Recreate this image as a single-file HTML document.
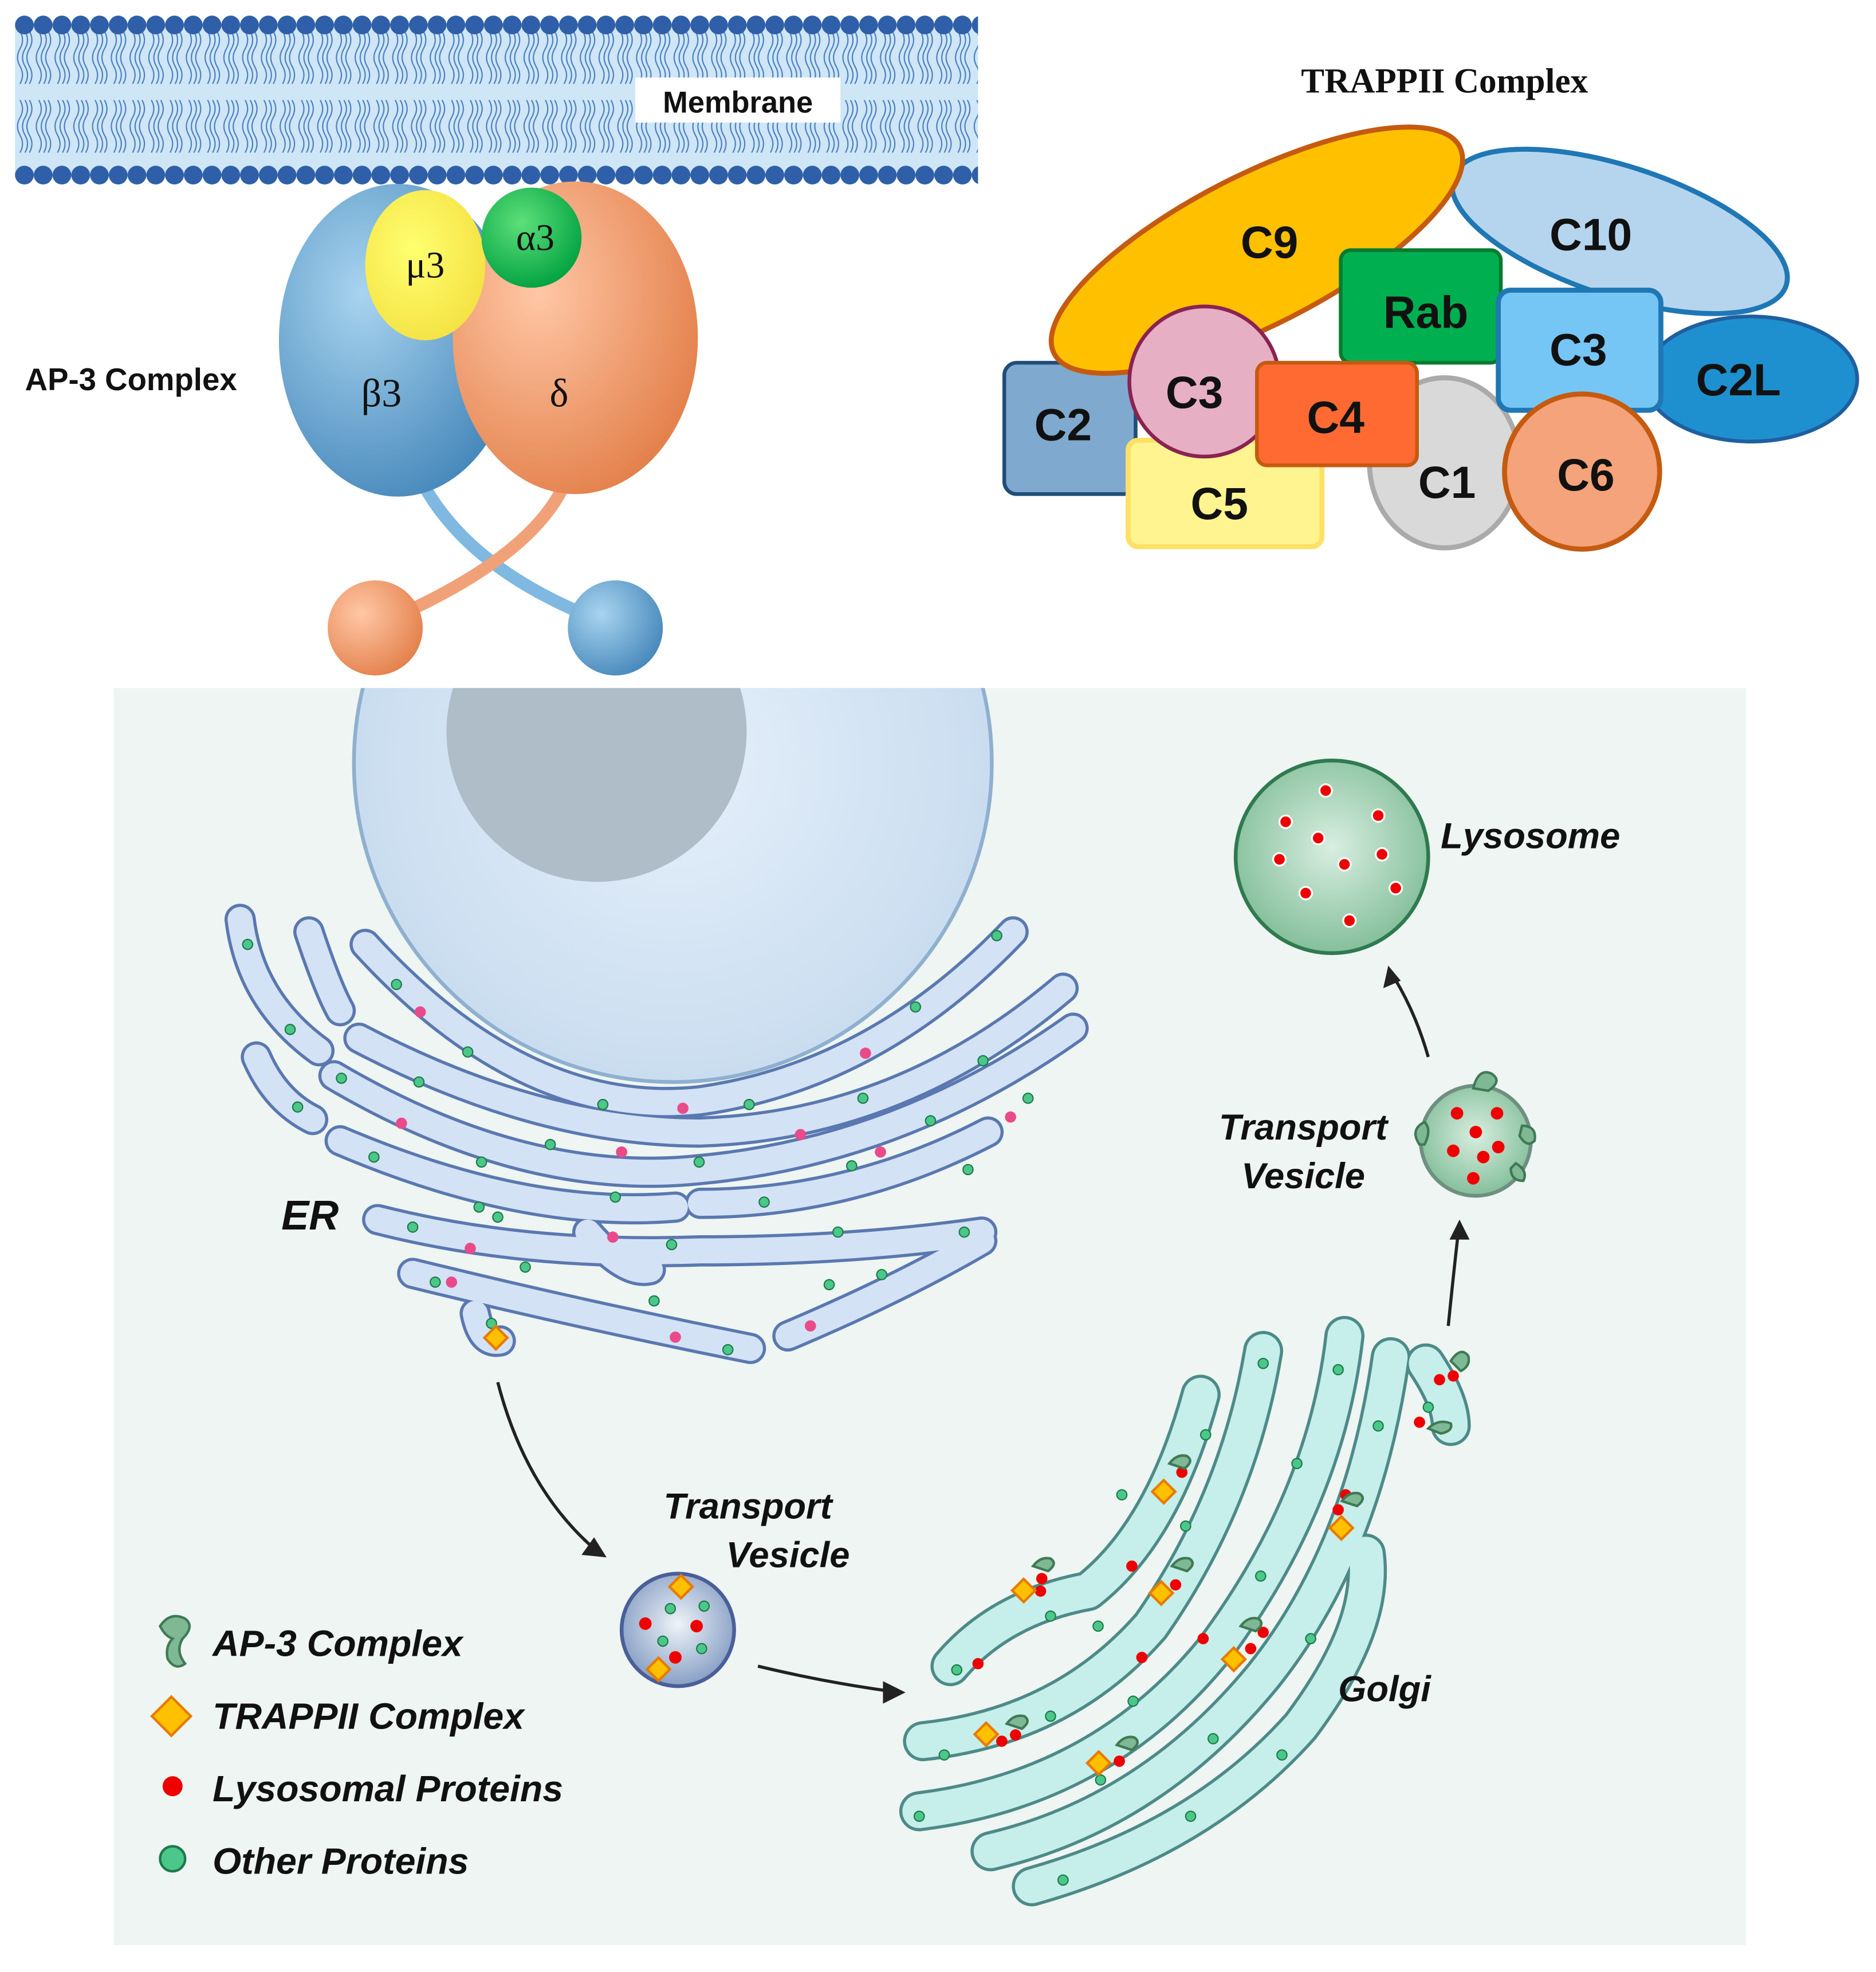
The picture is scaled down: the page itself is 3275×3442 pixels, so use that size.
<!DOCTYPE html>
<html><head><meta charset="utf-8"><style>html,body{margin:0;padding:0;background:#fff}svg{display:block}</style></head><body>
<svg width="3275" height="3442" viewBox="0 0 1500 1576.5" xmlns="http://www.w3.org/2000/svg" font-family="Liberation Sans, sans-serif">
<defs>
<pattern id="tails" x="12" y="0" width="15" height="150" patternUnits="userSpaceOnUse">
<path d="M4 25 q4 7 0 14 q-4 7 0 14 q4 7 0 14 M8 25 q4 7 0 14 q-4 7 0 14 q4 7 0 14 M11.5 25 q4 7 0 14 q-4 7 0 14 q4 7 0 14 M4 80 q4 7 0 14 q-4 7 0 14 q4 7 0 14 M8 80 q4 7 0 14 q-4 7 0 14 q4 7 0 14 M11.5 80 q4 7 0 14 q-4 7 0 14 q4 7 0 14" fill="none" stroke="#4a7fc0" stroke-width="1"/>
<circle cx="7.5" cy="20" r="7.5" fill="#2f5fa8"/><circle cx="7.5" cy="140" r="7.5" fill="#2f5fa8"/>
</pattern>
<radialGradient id="gb" cx="0.35" cy="0.35" r="0.8"><stop offset="0" stop-color="#a8d4ef"/><stop offset="1" stop-color="#3b7fb5"/></radialGradient>
<radialGradient id="go" cx="0.35" cy="0.35" r="0.8"><stop offset="0" stop-color="#ffc7a6"/><stop offset="1" stop-color="#e07840"/></radialGradient>
<radialGradient id="gg" cx="0.4" cy="0.35" r="0.7"><stop offset="0" stop-color="#5de07a"/><stop offset="1" stop-color="#00a040"/></radialGradient>
<radialGradient id="gy" cx="0.4" cy="0.4" r="0.7"><stop offset="0" stop-color="#ffff70"/><stop offset="1" stop-color="#f3e040"/></radialGradient>
<radialGradient id="lys" cx="0.5" cy="0.45" r="0.6"><stop offset="0" stop-color="#d8eee0"/><stop offset="1" stop-color="#7dbb95"/></radialGradient>
<radialGradient id="ves" cx="0.5" cy="0.45" r="0.6"><stop offset="0" stop-color="#eef4f8"/><stop offset="1" stop-color="#7e97c0"/></radialGradient>
<radialGradient id="nuc" cx="0.5" cy="0.5" r="0.6"><stop offset="0" stop-color="#e6f0fa"/><stop offset="1" stop-color="#c4d9ee"/></radialGradient>
<clipPath id="panel"><rect x="91" y="550" width="1305" height="1005"/></clipPath>
</defs>

<rect x="12" y="20" width="770" height="120" fill="#cfe6f7"/>
<rect x="12" y="5" width="770" height="150" fill="url(#tails)"/>
<rect x="508" y="62" width="164" height="36" fill="#fff"/>
<text x="590" y="90" font-size="24" font-weight="bold" text-anchor="middle" fill="#111">Membrane</text>

<path d="M340 390 Q380 460 490 500" fill="none" stroke="#7fb8e0" stroke-width="10"/>
<path d="M450 390 Q420 450 300 500" fill="none" stroke="#f1a178" stroke-width="10"/>
<circle cx="300" cy="502" r="38" fill="url(#go)"/>
<circle cx="492" cy="502" r="38" fill="url(#gb)"/>
<ellipse cx="318" cy="272" rx="95" ry="125" fill="url(#gb)"/>
<ellipse cx="460" cy="270" rx="98" ry="125" fill="url(#go)"/>
<ellipse cx="340" cy="212" rx="48" ry="60" fill="url(#gy)"/>
<circle cx="425" cy="190" r="40" fill="url(#gg)"/>
<text x="340" y="222" font-size="30" text-anchor="middle" font-family="Liberation Serif, serif" fill="#111">μ3</text>
<text x="428" y="200" font-size="30" text-anchor="middle" font-family="Liberation Serif, serif" fill="#111">α3</text>
<text x="305" y="325" font-size="32" text-anchor="middle" font-family="Liberation Serif, serif" fill="#111">β3</text>
<text x="447" y="325" font-size="32" text-anchor="middle" font-family="Liberation Serif, serif" fill="#111">δ</text>
<text x="20" y="312" font-size="25" font-weight="bold" fill="#111">AP-3 Complex</text>

<text x="1155" y="74" font-size="28" font-weight="bold" text-anchor="middle" font-family="Liberation Serif, serif" fill="#111">TRAPPII Complex</text>
<ellipse cx="1295" cy="185" rx="140" ry="52" transform="rotate(18 1295 185)" fill="#b5d5ef" stroke="#1f77b4" stroke-width="4"/>
<ellipse cx="1400" cy="303" rx="85" ry="50" fill="#1e90d0" stroke="#1f5f9f" stroke-width="3"/>
<rect x="803" y="290" width="105" height="105" rx="10" fill="#7fa9cf" stroke="#1f4e79" stroke-width="3"/>
<ellipse cx="1155" cy="370" rx="60" ry="68" fill="#d9d9d9" stroke="#aaa" stroke-width="4"/>
<ellipse cx="1005" cy="200" rx="182" ry="60" transform="rotate(-27 1005 200)" fill="#ffc000" stroke="#c55a11" stroke-width="4"/>
<rect x="1072" y="200" width="128" height="90" rx="8" fill="#00b050" stroke="#0a7a30" stroke-width="3"/>
<rect x="1198" y="232" width="130" height="96" rx="10" fill="#75c6f5" stroke="#1f77b4" stroke-width="4"/>
<circle cx="1265" cy="377" r="62" fill="#f4a37a" stroke="#c55a11" stroke-width="4"/>
<rect x="902" y="352" width="155" height="85" rx="8" fill="#fff48f" stroke="#ffe066" stroke-width="4"/>
<circle cx="963" cy="305" r="60" fill="#e6afc4" stroke="#8b2252" stroke-width="3"/>
<rect x="1005" y="290" width="128" height="82" rx="8" fill="#ff6a33" stroke="#c55a11" stroke-width="3"/>
<g font-size="36" font-weight="bold" text-anchor="middle" fill="#111">
<text x="1015" y="206">C9</text><text x="1272" y="200">C10</text><text x="1140" y="262">Rab</text>
<text x="1262" y="292">C3</text><text x="1390" y="316">C2L</text><text x="850" y="352">C2</text>
<text x="955" y="326">C3</text><text x="1068" y="346">C4</text><text x="1157" y="398">C1</text>
<text x="1268" y="392">C6</text><text x="975" y="415">C5</text></g>

<rect x="91" y="550" width="1305" height="1005" fill="#eef5f2"/>
<g clip-path="url(#panel)">
<circle cx="538" cy="610" r="255" fill="url(#nuc)" stroke="#8fb0cf" stroke-width="3"/>
<circle cx="477" cy="585" r="120" fill="#aebdc8"/>
</g>

<g fill="none" stroke-linecap="round" stroke-linejoin="round">
<g stroke="#5a78b0" stroke-width="25">
<path d="M192 735 Q200 800 255 840"/><path d="M247 745 Q262 790 272 808"/><path d="M205 845 Q220 880 250 895"/>
<path d="M292 755 Q420 895 560 880 Q700 860 810 745"/>
<path d="M287 830 Q430 905 560 905 Q720 900 850 790"/>
<path d="M267 860 Q420 950 560 935 Q720 920 858 822"/>
<path d="M272 912 Q420 975 540 965"/><path d="M560 962 Q680 962 790 905"/>
<path d="M302 975 Q420 1005 560 1000 Q680 1000 785 985"/>
<path d="M330 1018 Q460 1050 600 1078"/><path d="M630 1068 Q720 1030 785 992"/>
<path d="M470 985 Q500 1020 520 1015"/>
<path d="M380 1050 Q385 1075 400 1072"/>
</g>
<g stroke="#d4e2f5" stroke-width="20">
<path d="M192 735 Q200 800 255 840"/><path d="M247 745 Q262 790 272 808"/><path d="M205 845 Q220 880 250 895"/>
<path d="M292 755 Q420 895 560 880 Q700 860 810 745"/>
<path d="M287 830 Q430 905 560 905 Q720 900 850 790"/>
<path d="M267 860 Q420 950 560 935 Q720 920 858 822"/>
<path d="M272 912 Q420 975 540 965"/><path d="M560 962 Q680 962 790 905"/>
<path d="M302 975 Q420 1005 560 1000 Q680 1000 785 985"/>
<path d="M330 1018 Q460 1050 600 1078"/><path d="M630 1068 Q720 1030 785 992"/>
<path d="M470 985 Q500 1020 520 1015"/>
<path d="M380 1050 Q385 1075 400 1072"/>
</g>
</g>
<g fill="#4cc78a" stroke="#1d7a4a" stroke-width="1">
<circle cx="198" cy="755" r="4"/><circle cx="232" cy="823" r="4"/><circle cx="238" cy="885" r="4"/><circle cx="317" cy="787" r="4"/>
<circle cx="374" cy="841" r="4"/><circle cx="482" cy="883" r="4"/><circle cx="599" cy="883" r="4"/><circle cx="732" cy="805" r="4"/>
<circle cx="797" cy="748" r="4"/><circle cx="273" cy="862" r="4"/><circle cx="335" cy="865" r="4"/><circle cx="440" cy="915" r="4"/>
<circle cx="559" cy="929" r="4"/><circle cx="681" cy="932" r="4"/><circle cx="786" cy="848" r="4"/><circle cx="299" cy="925" r="4"/>
<circle cx="385" cy="929" r="4"/><circle cx="492" cy="957" r="4"/><circle cx="611" cy="961" r="4"/><circle cx="744" cy="896" r="4"/>
<circle cx="330" cy="981" r="4"/><circle cx="398" cy="973" r="4"/><circle cx="537" cy="995" r="4"/><circle cx="670" cy="985" r="4"/>
<circle cx="771" cy="985" r="4"/><circle cx="348" cy="1025" r="4"/><circle cx="420" cy="1013" r="4"/><circle cx="523" cy="1040" r="4"/>
<circle cx="663" cy="1027" r="4"/><circle cx="705" cy="1019" r="4"/><circle cx="582" cy="1079" r="4"/><circle cx="383" cy="965" r="4"/>
<circle cx="774" cy="935" r="4"/><circle cx="690" cy="878" r="4"/><circle cx="822" cy="878" r="4"/><circle cx="393" cy="1058" r="4"/>
</g>
<g fill="#e94b8a">
<circle cx="336" cy="809" r="4.5"/><circle cx="546" cy="886" r="4.5"/><circle cx="692" cy="842" r="4.5"/><circle cx="321" cy="898" r="4.5"/>
<circle cx="497" cy="921" r="4.5"/><circle cx="640" cy="907" r="4.5"/><circle cx="704" cy="921" r="4.5"/><circle cx="808" cy="893" r="4.5"/>
<circle cx="490" cy="989" r="4.5"/><circle cx="376" cy="998" r="4.5"/><circle cx="361" cy="1025" r="4.5"/><circle cx="540" cy="1069" r="4.5"/>
<circle cx="648" cy="1060" r="4.5"/>
</g>
<rect x="390" y="1063" width="13" height="13" transform="rotate(45 396.5 1069.5)" fill="#ffc000" stroke="#e87a00" stroke-width="2"/>
<text x="225" y="983" font-size="33" font-weight="bold" font-style="italic" fill="#111">ER</text>

<g fill="none" stroke-linecap="round" stroke-linejoin="round">
<g stroke="#4d8a88" stroke-width="32">
<path d="M760 1332 Q800 1285 870 1272 Q930 1225 960 1115"/>
<path d="M738 1392 Q850 1380 920 1300 Q990 1200 1010 1080"/>
<path d="M735 1448 Q880 1430 970 1320 Q1060 1200 1075 1068"/>
<path d="M792 1480 Q920 1450 1010 1340 Q1090 1240 1112 1085"/>
<path d="M825 1508 Q960 1470 1040 1380 Q1100 1300 1092 1242"/>
<path d="M1140 1090 Q1160 1120 1160 1140"/>
</g>
<g stroke="#c6eeea" stroke-width="27">
<path d="M760 1332 Q800 1285 870 1272 Q930 1225 960 1115"/>
<path d="M738 1392 Q850 1380 920 1300 Q990 1200 1010 1080"/>
<path d="M735 1448 Q880 1430 970 1320 Q1060 1200 1075 1068"/>
<path d="M792 1480 Q920 1450 1010 1340 Q1090 1240 1112 1085"/>
<path d="M825 1508 Q960 1470 1040 1380 Q1100 1300 1092 1242"/>
<path d="M1140 1090 Q1160 1120 1160 1140"/>
</g>
</g>
<g fill="#4cc78a" stroke="#1d7a4a" stroke-width="1">
<circle cx="765" cy="1335" r="4"/><circle cx="840" cy="1292" r="4"/><circle cx="897" cy="1195" r="4"/><circle cx="964" cy="1147" r="4"/>
<circle cx="1010" cy="1090" r="4"/><circle cx="1070" cy="1095" r="4"/><circle cx="878" cy="1300" r="4"/><circle cx="948" cy="1220" r="4"/>
<circle cx="1037" cy="1170" r="4"/><circle cx="840" cy="1372" r="4"/><circle cx="906" cy="1360" r="4"/><circle cx="970" cy="1390" r="4"/>
<circle cx="1048" cy="1310" r="4"/><circle cx="755" cy="1403" r="4"/><circle cx="735" cy="1452" r="4"/><circle cx="850" cy="1503" r="4"/>
<circle cx="952" cy="1452" r="4"/><circle cx="1025" cy="1403" r="4"/><circle cx="1102" cy="1140" r="4"/><circle cx="1142" cy="1125" r="4"/>
<circle cx="880" cy="1423" r="4"/><circle cx="1008" cy="1260" r="4"/>
</g>
<g fill="#e00" >
<circle cx="782" cy="1330" r="4.5"/><circle cx="905" cy="1252" r="4.5"/><circle cx="913" cy="1325" r="4.5"/><circle cx="962" cy="1310" r="4.5"/>
<circle cx="832" cy="1272" r="4.5"/><circle cx="833" cy="1262" r="4.5"/><circle cx="945" cy="1177" r="4.5"/><circle cx="940" cy="1267" r="4.5"/>
<circle cx="1000" cy="1318" r="4.5"/><circle cx="1010" cy="1305" r="4.5"/><circle cx="801" cy="1392" r="4.5"/><circle cx="812" cy="1387" r="4.5"/>
<circle cx="895" cy="1408" r="4.5"/><circle cx="1070" cy="1207" r="4.5"/><circle cx="1076" cy="1195" r="4.5"/><circle cx="1151" cy="1103" r="4.5"/>
<circle cx="1162" cy="1100" r="4.5"/><circle cx="1135" cy="1137" r="4.5"/>
</g>
<g fill="#ffc000" stroke="#e87a00" stroke-width="2">
<rect x="812" y="1265" width="13" height="13" transform="rotate(45 818.5 1271.5)"/>
<rect x="924" y="1186" width="13" height="13" transform="rotate(45 930.5 1192.5)"/>
<rect x="922" y="1267" width="13" height="13" transform="rotate(45 928.5 1273.5)"/>
<rect x="980" y="1320" width="13" height="13" transform="rotate(45 986.5 1326.5)"/>
<rect x="1066" y="1215" width="13" height="13" transform="rotate(45 1072.5 1221.5)"/>
<rect x="782" y="1380" width="13" height="13" transform="rotate(45 788.5 1386.5)"/>
<rect x="872" y="1403" width="13" height="13" transform="rotate(45 878.5 1409.5)"/>
</g>
<g fill="#7fb895" stroke="#3f7a55" stroke-width="2">
<path d="M826 1252 q6 -8 14 -6 q6 4 -2 10 z"/><path d="M935 1170 q6 -8 14 -6 q6 4 -2 10 z"/>
<path d="M937 1252 q6 -8 14 -6 q6 4 -2 10 z"/><path d="M992 1300 q6 -8 14 -6 q6 4 -2 10 z"/>
<path d="M1073 1200 q6 -8 14 -6 q6 4 -2 10 z"/><path d="M805 1378 q6 -8 14 -6 q6 4 -2 10 z"/>
<path d="M893 1395 q6 -8 14 -6 q6 4 -2 10 z"/><path d="M1160 1088 q8 -12 14 -4 q2 8 -6 12 z"/>
<path d="M1142 1142 q8 -8 18 -4 q2 6 -8 8 z"/>
</g>
<text x="1070" y="1360" font-size="29" font-weight="bold" font-style="italic" fill="#111">Golgi</text>

<circle cx="1065" cy="685" r="77" fill="url(#lys)" stroke="#2f7a50" stroke-width="3"/>
<g fill="#e00" stroke="#fff" stroke-width="1.5">
<circle cx="1060" cy="632" r="5"/><circle cx="1028" cy="657" r="5"/><circle cx="1102" cy="652" r="5"/><circle cx="1054" cy="670" r="5"/>
<circle cx="1075" cy="691" r="5"/><circle cx="1105" cy="683" r="5"/><circle cx="1023" cy="687" r="5"/><circle cx="1044" cy="714" r="5"/>
<circle cx="1116" cy="710" r="5"/><circle cx="1079" cy="736" r="5"/></g>
<text x="1152" y="678" font-size="29" font-weight="bold" font-style="italic" fill="#111">Lysosome</text>

<circle cx="1180" cy="912" r="44" fill="url(#lys)" stroke="#6f8f80" stroke-width="3"/>
<g fill="#e00"><circle cx="1165" cy="890" r="5"/><circle cx="1197" cy="890" r="5"/><circle cx="1180" cy="905" r="5"/><circle cx="1198" cy="917" r="5"/>
<circle cx="1162" cy="920" r="5"/><circle cx="1186" cy="925" r="5"/><circle cx="1178" cy="942" r="5"/></g>
<g fill="#7fb895" stroke="#3f7a55" stroke-width="2">
<path d="M1178 870 q4 -16 14 -12 q10 6 -2 14 z"/><path d="M1135 915 q-8 -12 4 -18 q6 6 0 18 z"/>
<path d="M1217 900 q12 0 10 12 q-6 6 -12 -4 z"/><path d="M1212 930 q10 6 6 14 q-10 0 -10 -10 z"/></g>
<text x="1042" y="911" font-size="29" font-weight="bold" font-style="italic" text-anchor="middle" fill="#111">Transport</text>
<text x="1042" y="950" font-size="29" font-weight="bold" font-style="italic" text-anchor="middle" fill="#111">Vesicle</text>

<circle cx="542" cy="1303" r="45" fill="url(#ves)" stroke="#4a5e99" stroke-width="3"/>
<g fill="#e00"><circle cx="516" cy="1298" r="5"/><circle cx="557" cy="1300" r="5"/><circle cx="540" cy="1325" r="5"/></g>
<g fill="#4cc78a" stroke="#1d7a4a"><circle cx="536" cy="1286" r="4"/><circle cx="563" cy="1284" r="4"/><circle cx="530" cy="1312" r="4"/><circle cx="561" cy="1318" r="4"/></g>
<g fill="#ffc000" stroke="#e87a00" stroke-width="2"><rect x="538" y="1262" width="13" height="13" transform="rotate(45 544.5 1268.5)"/><rect x="520" y="1328" width="13" height="13" transform="rotate(45 526.5 1334.5)"/></g>
<text x="598" y="1214" font-size="29" font-weight="bold" font-style="italic" text-anchor="middle" fill="#111">Transport</text>
<text x="630" y="1253" font-size="29" font-weight="bold" font-style="italic" text-anchor="middle" fill="#111">Vesicle</text>

<g fill="none" stroke="#222" stroke-width="2.5">
<path d="M398 1105 Q420 1190 475 1238"/><path d="M606 1332 Q660 1345 712 1352"/>
<path d="M1158 1060 Q1162 1020 1166 985"/><path d="M1142 845 Q1132 810 1115 782"/></g>
<g fill="#222">
<path d="M485 1245 l-20 -2 l10 -14 z"/><path d="M724 1353 l-18 -9 l0 18 z"/>
<path d="M1167 975 l-8 16 l16 0 z"/><path d="M1110 772 l-4 18 l14 -6 z"/></g>

<path d="M128 1300 q8 -12 20 -6 q8 6 -2 16 q-6 10 2 20 q-8 6 -14 -4 q-2 -10 4 -16 q-6 -2 -10 -10z" fill="#7fb895" stroke="#3f7a55" stroke-width="2"/>
<rect x="126" y="1361" width="22" height="22" transform="rotate(45 137 1372)" fill="#ffc000" stroke="#e87a00" stroke-width="2"/>
<circle cx="138" cy="1428" r="8" fill="#e00"/>
<circle cx="138" cy="1486" r="10" fill="#4cc78a" stroke="#1d7a4a" stroke-width="2"/>
<g font-size="29.5" font-weight="bold" font-style="italic" fill="#111">
<text x="170" y="1324">AP-3 Complex</text><text x="170" y="1382">TRAPPII Complex</text>
<text x="170" y="1440">Lysosomal Proteins</text><text x="170" y="1498">Other Proteins</text></g>
</svg>
</body></html>
